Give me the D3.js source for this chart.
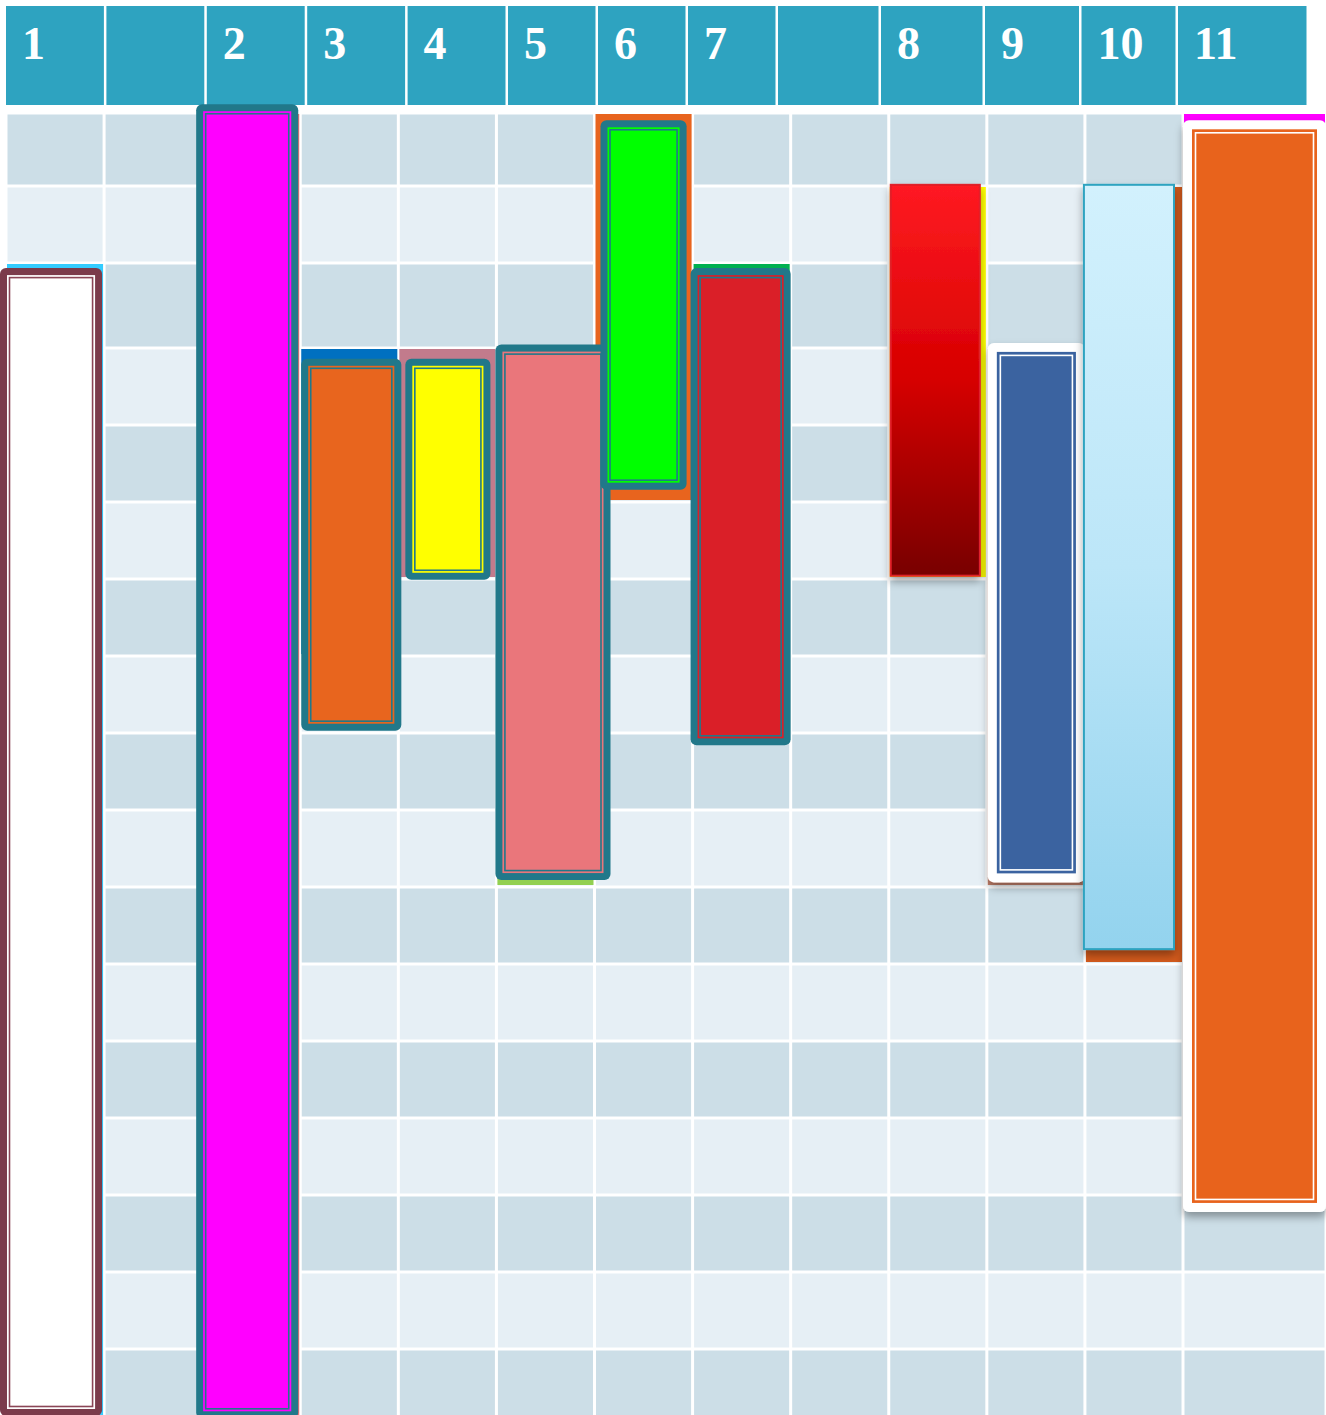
<!DOCTYPE html>
<html><head><meta charset="utf-8">
<script src="https://cdn.jsdelivr.net/npm/d3@7"></script>
<style>html,body{margin:0;padding:0;background:#fff;overflow:hidden}</style>
</head><body>
<svg id="chart" width="1326" height="1415"></svg>
<script>
// ---- data ----
const categories = ["1", "", "2", "3", "4", "5", "6", "7", "", "8", "9", "10", "11"];
const rowCount = 17;
// back (grid aligned) ranges, in row units
const backStart = [2, null, 0, 3, 3, 3, 0, 2, null, 1, 3, 1, 0];
const backEnd   = [17, null, 17, 7, 6, 10, 5, 8, null, 6, 10, 11, 14];
// front (decorated) ranges, in row units
const frontStart = [2.06, null, -0.12, 3.14, 3.14, 2.96, 0.10, 2.06, null, 0.97, 2.94, 0.97, 0.10];
const frontEnd   = [16.87, null, 16.9, 7.97, 6.01, 9.91, 4.84, 8.16, null, 5.97, 9.94, 10.82, 14.22];

// ---- styles ----
const backColors = ["#33CCFF", null, "#EE7070", "#0070C0", "#C27B8C", "#92D050", "#E8641E", "#00B050", null, "#FFFF00", "#C9846E", "#D35A1C", "#FF00FF"];
const TEAL = "#21788A";
const frontStyles = [
  {type: "framed", border: "#7B3B4B", bw: 7, fill: "#FFFFFF", line: "#8A4556", inset: 9.5, dx0: -6, dx1: -2},
  null,
  {type: "framed", border: TEAL, bw: 7, fill: "#FF00FF", line: TEAL, inset: 9.5, dx0: -6, dx1: -2},
  {type: "framed", border: TEAL, bw: 7, fill: "#E8651E", line: TEAL, inset: 9.5, dx0: 1, dx1: 3},
  {type: "framed", border: TEAL, bw: 7, fill: "#FFFF00", line: TEAL, inset: 9.5, dx0: 7, dx1: -6},
  {type: "framed", border: TEAL, bw: 7, fill: "#EA767B", line: TEAL, inset: 9.5, dx0: -1, dx1: 16},
  {type: "framed", border: TEAL, bw: 7, fill: "#00FF00", line: TEAL, inset: 9.5, dx0: 6, dx1: -6},
  {type: "framed", border: TEAL, bw: 7, fill: "#DA1F28", line: TEAL, inset: 9.5, dx0: -2, dx1: 0},
  null,
  {type: "gradient", grad: ["#FF1A22", "#D60000", "#780000"], stroke: "#E0202A", sw: 2, dx0: 1, dx1: -6, shadow: true},
  {type: "framed", border: "#FFFFFF", bw: 9, fill: "#3A64A0", line: "#FFFFFF", inset: 12.5, dx0: 1, dx1: 0, shadow: true},
  {type: "gradient", grad: ["#D2F1FD", "#BCE6F8", "#93D3EE"], stroke: "#2EA3C0", sw: 2, dx0: -2, dx1: -8, shadow: true},
  {type: "framed", border: "#FFFFFF", bw: 9, fill: "#E8641E", line: "#FFFFFF", inset: 12.5, dx0: 0, dx1: 0, shadow: true}
];

// ---- scales ----
const x = d3.scaleLinear().domain([0, 12, 13]).range([6, 1183, 1326]);
const hx = d3.scaleLinear().domain([0, 5, 8, 9, 10, 12, 13]).range([6, 508, 778, 881, 985, 1178, 1309]);
const y = d3.scaleLinear().domain([0, 1, 2, 3, 17]).range([113, 186, 263, 348, 1426]);

const svg = d3.select("#chart");
const defs = svg.append("defs");
const f = defs.append("filter").attr("id", "shadow")
  .attr("x", "-30%").attr("y", "-10%").attr("width", "160%").attr("height", "125%");
f.append("feDropShadow").attr("dx", 0).attr("dy", 5).attr("stdDeviation", 4)
  .attr("flood-color", "#000").attr("flood-opacity", 0.35);

frontStyles.forEach((s, i) => {
  if (s && s.type === "gradient") {
    const g = defs.append("linearGradient").attr("id", "grad" + i)
      .attr("x1", 0).attr("y1", 0).attr("x2", 0).attr("y2", 1);
    s.grad.forEach((col, k) => {
      g.append("stop").attr("offset", (k / (s.grad.length - 1) * 100) + "%").attr("stop-color", col);
    });
  }
});

// ---- header ----
const header = svg.append("g");
categories.forEach((c, i) => {
  header.append("rect")
    .attr("x", hx(i)).attr("y", 6)
    .attr("width", hx(i + 1) - hx(i) - 2.5).attr("height", 99)
    .attr("fill", "#2EA3C0");
  if (c !== "") {
    header.append("text")
      .attr("x", hx(i) + 16).attr("y", 59)
      .attr("fill", "#FFFFFF")
      .attr("font-family", "'Liberation Serif', 'Times New Roman', serif")
      .attr("font-weight", "bold").attr("font-size", 46)
      .text(c);
  }
});

// ---- grid ----
const grid = svg.append("g");
for (let r = 0; r < rowCount; r++) {
  categories.forEach((c, i) => {
    grid.append("rect")
      .attr("x", x(i) + 1.5).attr("y", y(r) + 1.5)
      .attr("width", x(i + 1) - x(i) - 3).attr("height", y(r + 1) - y(r) - 3)
      .attr("fill", r % 2 === 0 ? "#CCDEE7" : "#E6EFF5");
  });
}

// ---- back bars ----
const back = svg.append("g");
categories.forEach((c, i) => {
  if (backStart[i] == null) return;
  back.append("rect")
    .attr("x", x(i) + 1).attr("y", y(backStart[i]) + 1)
    .attr("width", x(i + 1) - x(i) - 2)
    .attr("height", y(backEnd[i]) - y(backStart[i]) - 3)
    .attr("fill", backColors[i]);
});

// ---- front bars ----
const front = svg.append("g");
categories.forEach((c, i) => {
  const s = frontStyles[i];
  if (!s || frontStart[i] == null) return;
  const x0 = x(i) + s.dx0, x1 = x(i + 1) + s.dx1;
  const y0 = y(frontStart[i]), y1 = y(frontEnd[i]);
  const g = front.append("g");
  if (s.shadow) g.attr("filter", "url(#shadow)");
  if (s.type === "framed") {
    g.append("rect").attr("x", x0).attr("y", y0)
      .attr("width", x1 - x0).attr("height", y1 - y0)
      .attr("rx", 6).attr("fill", s.border);
    g.append("rect").attr("x", x0 + s.bw).attr("y", y0 + s.bw)
      .attr("width", x1 - x0 - 2 * s.bw).attr("height", y1 - y0 - 2 * s.bw)
      .attr("fill", s.fill);
    g.append("rect").attr("x", x0 + s.inset).attr("y", y0 + s.inset)
      .attr("width", x1 - x0 - 2 * s.inset).attr("height", y1 - y0 - 2 * s.inset)
      .attr("fill", "none").attr("stroke", s.line).attr("stroke-width", 1.6);
  } else {
    g.append("rect").attr("x", x0 + s.sw / 2).attr("y", y0 + s.sw / 2)
      .attr("width", x1 - x0 - s.sw).attr("height", y1 - y0 - s.sw)
      .attr("fill", "url(#grad" + i + ")")
      .attr("stroke", s.stroke).attr("stroke-width", s.sw);
  }
});
</script>
</body></html>
